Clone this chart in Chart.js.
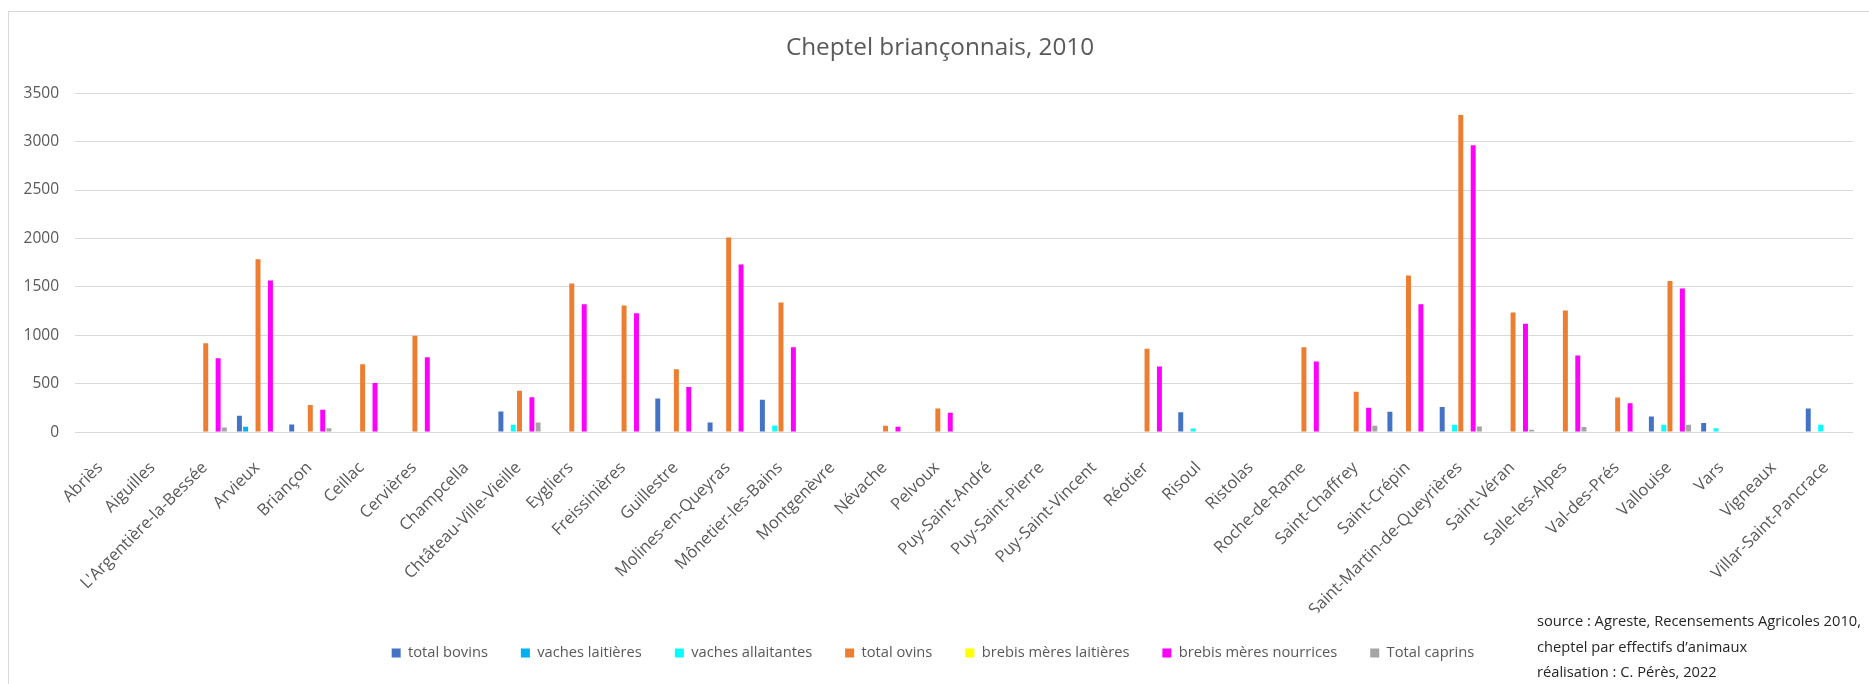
<!DOCTYPE html>
<html>
<head>
<meta charset="utf-8">
<script src="https://cdn.jsdelivr.net/npm/chart.js@4.4.1/dist/chart.umd.min.js"></script>
<style>
  html, body { margin: 0; padding: 0; background: #ffffff; }
  #wrap { position: absolute; left: 0; top: 0; width: 1869px; height: 684px; }
</style>
</head>
<body>
<div id="wrap"><canvas id="c" width="1869" height="684"></canvas></div>
<script>
const categories = ["Abriès","Aiguilles","L'Argentière-la-Bessée","Arvieux","Briançon","Ceillac","Cervières","Champcella","Chtâteau-Ville-Vieille","Eygliers","Freissinières","Guillestre","Molines-en-Queyras","Mônetier-les-Bains","Montgenèvre","Névache","Pelvoux","Puy-Saint-André","Puy-Saint-Pierre","Puy-Saint-Vincent","Réotier","Risoul","Ristolas","Roche-de-Rame","Saint-Chaffrey","Saint-Crépin","Saint-Martin-de-Queyrières","Saint-Véran","Salle-les-Alpes","Val-des-Prés","Vallouise","Vars","Vigneaux","Villar-Saint-Pancrace"];

const totalBovins        = [0,0,0,169,79,0,0,0,213,0,0,348,100,334,0,0,0,0,0,0,0,206,0,0,0,211,258,0,0,0,162,93,0,244];
const vachesLaitieres    = [0,0,0,55,0,0,0,0,0,0,0,0,0,0,0,0,0,0,0,0,0,0,0,0,0,0,0,0,0,0,0,0,0,0];
const vachesAllaitantes  = [0,0,0,0,0,0,0,0,76,0,0,0,0,69,0,0,0,0,0,0,0,38,0,0,0,0,76,0,0,0,76,41,0,76];
const totalOvins         = [0,0,919,1786,279,702,995,0,427,1535,1308,650,2010,1339,0,65,244,0,0,0,860,0,0,877,416,1617,3276,1235,1256,358,1562,0,0,0];
const brebisLaitieres    = [0,0,0,0,0,0,0,0,0,0,0,0,0,0,0,0,0,0,0,0,0,0,0,0,0,0,0,0,0,0,0,0,0,0];
const brebisNourrices    = [0,0,764,1566,231,506,774,0,361,1321,1228,465,1731,877,0,55,200,0,0,0,678,0,0,730,251,1321,2963,1118,791,299,1483,0,0,0];
const totalCaprins       = [0,0,48,0,41,0,0,0,100,0,0,0,0,0,0,0,0,0,0,0,0,0,0,0,65,0,58,24,52,0,76,0,0,0];

const seriesNames = ["total bovins","vaches laitières","vaches allaitantes","total ovins","brebis mères laitières","brebis mères nourrices","Total caprins"];
const seriesColors = ["#4472C4","#00B0F0","#00FFFF","#ED7D31","#FFFF00","#FF00FF","#A5A5A5"];
const seriesData = [totalBovins, vachesLaitieres, vachesAllaitantes, totalOvins, brebisLaitieres, brebisNourrices, totalCaprins];
const yTicks = [0,500,1000,1500,2000,2500,3000,3500];
const titleText = "Cheptel briançonnais, 2010";
const sourceLines = ["source : Agreste, Recensements Agricoles 2010,","cheptel par effectifs d\u2019animaux","réalisation : C. Pérès, 2022"];

const FONT = "'Open Sans', 'Liberation Sans', sans-serif";
const TXT = "#595959";

const framePlugin = {
  id: 'frame',
  afterLayout(chart) {
    if (chart.titleBlock) {
      chart.titleBlock.left += 7;
      chart.titleBlock.right += 7;
    }
  },
  beforeDraw(chart) {
    const ctx = chart.ctx;
    ctx.save();
    ctx.fillStyle = '#ffffff';
    ctx.fillRect(0, 0, chart.width, chart.height);
    ctx.strokeStyle = '#d9d9d9';
    ctx.lineWidth = 1;
    ctx.strokeRect(8.5, 11.5, chart.width + 10, chart.height + 10);
    ctx.restore();
  },
  afterDraw(chart) {
    const ctx = chart.ctx;
    ctx.save();
    ctx.fillStyle = '#262626';
    ctx.font = "14.7px " + FONT;
    ctx.textBaseline = 'middle';
    ctx.textAlign = 'left';
    const ys = [622, 648, 673];
    sourceLines.forEach((t, i) => ctx.fillText(t, 1537, ys[i]));
    ctx.restore();
  }
};

new Chart(document.getElementById('c'), {
  type: 'bar',
  data: {
    labels: categories,
    datasets: seriesNames.map((n, i) => ({
      label: n,
      data: seriesData[i],
      backgroundColor: seriesColors[i],
      borderWidth: 0,
      categoryPercentage: 0.83,
      barPercentage: 0.8
    }))
  },
  options: {
    responsive: false,
    animation: false,
    devicePixelRatio: 1,
    layout: { padding: { left: 13, right: 16, top: 0, bottom: 13.75 } },
    plugins: {
      title: {
        display: true,
        text: titleText,
        color: TXT,
        font: { family: FONT, size: 24.3, weight: 'normal' },
        padding: { top: 33.1, bottom: 31 }
      },
      legend: {
        display: true,
        position: 'bottom',
        labels: {
          boxWidth: 9,
          boxHeight: 9,
          padding: 33,
          color: TXT,
          font: { family: FONT, size: 14.7 }
        }
      },
      tooltip: { enabled: false }
    },
    scales: {
      x: {
        grid: { display: false },
        border: { display: false },
        ticks: {
          autoSkip: false,
          maxRotation: 45,
          minRotation: 45,
          color: TXT,
          padding: 18,
          labelOffset: -1,
          font: { family: FONT, size: 16.5 }
        },
        afterFit(scale) { scale.height = 180.45; }
      },
      y: {
        min: 0,
        max: 3500,
        afterBuildTicks(scale) { scale.ticks = yTicks.map(v => ({ value: v })); },
        grid: { color: '#d9d9d9', lineWidth: 1, drawTicks: false },
        border: { display: false },
        ticks: {
          color: TXT,
          padding: 16,
          font: { family: FONT, size: 15.5 },
          callback: (v) => String(v)
        },
        afterFit(scale) { scale.width = 62; }
      }
    }
  },
  plugins: [framePlugin]
});
</script>
</body>
</html>
